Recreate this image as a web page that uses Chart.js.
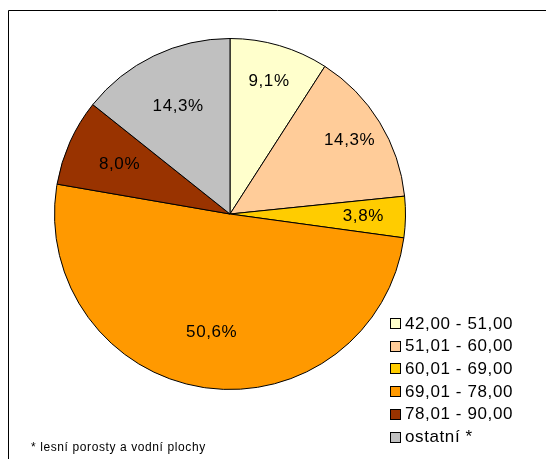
<!DOCTYPE html>
<html>
<head>
<meta charset="utf-8">
<script src="https://cdn.jsdelivr.net/npm/chart.js@4/dist/chart.umd.min.js"></script>
<style>
  html, body {margin: 0; padding: 0; background: #fff;}
  canvas {display: block;}
</style>
</head>
<body>
<canvas id="chart" width="546" height="459"></canvas>
<script>
const categories = [
  '42,00 - 51,00',
  '51,01 - 60,00',
  '60,01 - 69,00',
  '69,01 - 78,00',
  '78,01 - 90,00',
  'ostatní *',
]
const shares = [9.1, 14.3, 3.8, 50.6, 8.0, 14.3]
const colors = ['#FFFFCC', '#FFCC99', '#FFCC00', '#FF9900', '#993300', '#C0C0C0']
const footnote = '* lesní porosty a vodní plochy'

// how far out (fraction of radius) each slice label sits
const labelDist = [0.79, 0.8, 0.76, 0.68, 0.69, 0.68]

const FONT = '17px "Liberation Sans", Arial, sans-serif'

/** frame, slice labels, legend and footnote */
const decorations = {
  id: 'decorations',
  beforeDraw(chart) {
    const ctx = chart.ctx
    ctx.save()
    ctx.fillStyle = '#fff'
    ctx.fillRect(0, 0, chart.width, chart.height)
    ctx.strokeStyle = '#000'
    ctx.lineWidth = 1
    ctx.beginPath()
    ctx.moveTo(8.5, chart.height + 2)
    ctx.lineTo(8.5, 10.5)
    ctx.lineTo(chart.width + 2, 10.5)
    ctx.stroke()
    ctx.restore()
  },
  afterDatasetsDraw(chart) {
    const ctx = chart.ctx
    const meta = chart.getDatasetMeta(0)
    ctx.save()
    ctx.letterSpacing = '0.6px'
    ctx.font = FONT
    ctx.fillStyle = '#000'
    ctx.textAlign = 'center'
    ctx.textBaseline = 'middle'
    meta.data.forEach((arc, i) => {
      const {x, y, startAngle, endAngle, outerRadius} = arc.getProps(
          ['x', 'y', 'startAngle', 'endAngle', 'outerRadius'], true)
      const mid = (startAngle + endAngle) / 2
      const r = outerRadius * labelDist[i]
      const text = shares[i].toFixed(1).replace('.', ',') + '%'
      ctx.fillText(text, x + Math.cos(mid) * r, y + Math.sin(mid) * r)
    })

    // legend
    ctx.textAlign = 'left'
    categories.forEach((label, i) => {
      const rowY = 323 + i * 22.7
      ctx.fillStyle = colors[i]
      ctx.fillRect(390, Math.round(rowY) - 5, 10, 10)
      ctx.strokeStyle = '#000'
      ctx.lineWidth = 1
      ctx.strokeRect(390.5, Math.round(rowY) - 4.5, 10, 10)
      ctx.fillStyle = '#000'
      ctx.fillText(label, 405, rowY + 1)
    })

    // footnote
    ctx.letterSpacing = '0.6px'
    ctx.font = '12px "Liberation Sans", Arial, sans-serif'
    ctx.textBaseline = 'alphabetic'
    ctx.fillText(footnote, 31, 451)
    ctx.restore()
  },
}

new Chart('chart', {
  type: 'pie',
  data: {
    labels: categories,
    datasets: [{
      data: shares,
      backgroundColor: colors,
      borderColor: '#000',
      borderWidth: 1,
      hoverOffset: 0,
      offset: 0,
    }],
  },
  options: {
    responsive: false,
    animation: false,
    events: [],
    layout: {padding: {left: 54, top: 38, right: 140, bottom: 69}},
    plugins: {
      legend: {display: false},
      tooltip: {enabled: false},
    },
  },
  plugins: [decorations],
})
</script>
</body>
</html>
